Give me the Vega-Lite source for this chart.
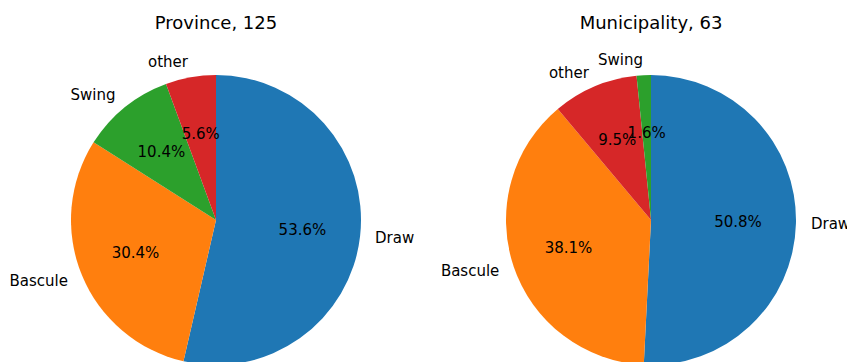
{
  "$schema": "https://vega.github.io/schema/vega-lite/v6.json",
  "padding": {"left": 9, "top": 15, "right": 0, "bottom": 0},
  "background": "white",
  "data": {"values": [
    {"region": "Province", "type": "Draw", "count": 67},
    {"region": "Province", "type": "Bascule", "count": 38},
    {"region": "Province", "type": "Swing", "count": 13},
    {"region": "Province", "type": "other", "count": 7},
    {"region": "Municipality", "type": "Draw", "count": 32},
    {"region": "Municipality", "type": "Bascule", "count": 24},
    {"region": "Municipality", "type": "other", "count": 6},
    {"region": "Municipality", "type": "Swing", "count": 1}
  ]},
  "transform": [
    {"joinaggregate": [{"op": "sum", "field": "count", "as": "total"}], "groupby": ["region"]},
    {"window": [{"op": "sum", "field": "count", "as": "cum"}], "sort": [{"field": "count", "order": "descending"}], "groupby": ["region"]},
    {"calculate": "datum.count / datum.total", "as": "frac"},
    {"calculate": "(datum.cum - datum.count / 2) / datum.total", "as": "mid"},
    {"calculate": "datum.region + ', ' + datum.total", "as": "panel"}
  ],
  "facet": {
    "column": {
      "field": "panel", "type": "nominal",
      "sort": ["Province, 125", "Municipality, 63"],
      "header": {"title": null, "labelFont": "DejaVu Sans", "labelFontSize": 18, "labelColor": "black", "labelPadding": 43}
    }
  },
  "spacing": 45,
  "bounds": "flush",
  "spec": {
    "width": 390,
    "height": 288,
    "encoding": {
      "theta": {"field": "frac", "type": "quantitative", "stack": true, "scale": {"domain": [0, 1]}},
      "order": {"field": "count", "sort": "descending"},
      "color": {"field": "type", "type": "nominal", "scale": {"domain": ["Draw", "Bascule", "Swing", "other"], "range": ["#1f77b4", "#ff7f0e", "#2ca02c", "#d62728"]}, "legend": null}
    },
    "layer": [
      {"mark": {"type": "arc", "outerRadius": 145}},
      {
        "mark": {"type": "text", "radius": 160, "font": "DejaVu Sans", "fontSize": 15, "baseline": "middle", "align": {"expr": "datum.mid < 0.5 ? 'left' : 'right'"}},
        "encoding": {"text": {"field": "type"}, "detail": {"field": "type"}, "color": {"value": "black"}}
      },
      {
        "mark": {"type": "text", "radius": 87, "font": "DejaVu Sans", "fontSize": 15, "baseline": "middle", "align": "center"},
        "encoding": {"text": {"field": "frac", "type": "quantitative", "format": ".1%"}, "detail": {"field": "type"}, "color": {"value": "black"}}
      }
    ]
  },
  "config": {"view": {"stroke": null}}
}
